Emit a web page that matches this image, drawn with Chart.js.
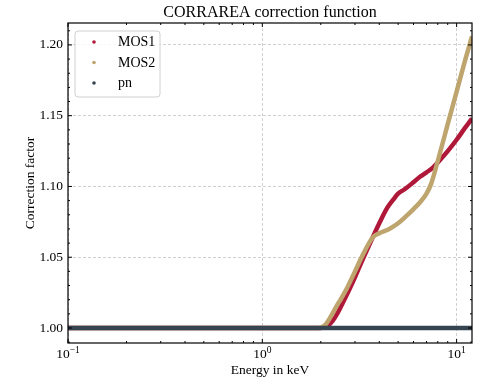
<!DOCTYPE html>
<html>
<head>
<meta charset="utf-8">
<script src="https://cdn.jsdelivr.net/npm/chart.js@4.4.1/dist/chart.umd.min.js"></script>
<style>
html,body{margin:0;padding:0;background:#fff;}
#wrap{width:481px;height:380px;position:relative;}
</style>
</head>
<body>
<div id="wrap"><canvas id="c" width="481" height="380"></canvas></div>
<script>
// ---- data ----
const title = "CORRAREA correction function";
const xLabel = "Energy in keV";
const yLabel = "Correction factor";
const seriesNames = ["MOS1", "MOS2", "pn"];
const seriesColors = ["#b0183a", "#bea46d", "#36454f"];

const mos1Energy = [0.1, 1.0, 2.0, 2.15, 2.3, 2.45, 2.6, 2.8, 3.0, 3.3, 3.7, 4.0, 4.4, 4.8, 5.0, 5.4, 6.0, 6.5, 7.0, 7.5, 8.0, 9.0, 10.0, 11.0, 12.0];
const mos1Value  = [1.000, 1.000, 1.000, 1.001, 1.005, 1.011, 1.018, 1.027, 1.036, 1.049, 1.064, 1.074, 1.085, 1.092, 1.095, 1.098, 1.103, 1.107, 1.110, 1.113, 1.117, 1.125, 1.133, 1.141, 1.148];

const mos2Energy = [0.1, 1.0, 1.95, 2.1, 2.25, 2.4, 2.55, 2.7, 3.0, 3.3, 3.7, 4.0, 4.5, 5.0, 5.5, 6.0, 6.5, 7.0, 7.4, 8.0, 9.0, 10.0, 11.0, 12.0];
const mos2Value  = [1.000, 1.000, 1.000, 1.002, 1.008, 1.015, 1.021, 1.027, 1.040, 1.052, 1.064, 1.067, 1.070, 1.074, 1.079, 1.084, 1.089, 1.095, 1.102, 1.118, 1.144, 1.167, 1.188, 1.206];

const pnEnergy = [0.1, 0.5, 1.0, 2.0, 5.0, 10.0, 12.0];
const pnValue  = [1.000, 1.000, 1.000, 1.000, 1.000, 1.000, 1.000];

const xTickValues = [0.1, 1, 10];
const xTickExponents = ["\u22121", "0", "1"];
const yTickValues = [1.00, 1.05, 1.10, 1.15, 1.20];
const yMinorStep = 0.01;

const energies = [mos1Energy, mos2Energy, pnEnergy];
const values = [mos1Value, mos2Value, pnValue];

const SERIF = "'Liberation Serif', 'Times New Roman', serif";

const datasets = seriesNames.map((name, i) => ({
  label: name,
  data: energies[i].map((e, j) => ({x: e, y: values[i][j]})),
  borderColor: seriesColors[i],
  backgroundColor: seriesColors[i],
  borderWidth: 4.5,
  pointRadius: 0,
  cubicInterpolationMode: 'monotone',
  order: 3 - i
}));

const decorPlugin = {
  id: 'decor',
  afterDraw(chart) {
    const ctx = chart.ctx;
    const a = chart.chartArea;
    const xs = chart.scales.x, ys = chart.scales.y;
    ctx.save();
    ctx.strokeStyle = '#000';
    ctx.lineWidth = 1.2;
    ctx.strokeRect(a.left, a.top, a.right - a.left, a.bottom - a.top);
    ctx.lineWidth = 1;
    const xmin = xs.min, xmax = xs.max;
    for (let d = -2; d <= 2; d++) {
      for (let m = 1; m <= 9; m++) {
        const v = m * Math.pow(10, d);
        if (v < xmin - 1e-9 || v > xmax + 1e-9) continue;
        const px = xs.getPixelForValue(v);
        const len = (m === 1) ? 4 : 2;
        ctx.beginPath();
        ctx.moveTo(px, a.bottom); ctx.lineTo(px, a.bottom - len);
        ctx.moveTo(px, a.top); ctx.lineTo(px, a.top + len);
        ctx.stroke();
      }
    }
    const start = Math.ceil(ys.min / yMinorStep - 1e-6);
    const end = Math.floor(ys.max / yMinorStep + 1e-6);
    for (let k = start; k <= end; k++) {
      const v = k * yMinorStep;
      const py = ys.getPixelForValue(v);
      const major = (k % 5 === 0);
      const len = major ? 4 : 2;
      ctx.beginPath();
      ctx.moveTo(a.left, py); ctx.lineTo(a.left + len, py);
      ctx.moveTo(a.right, py); ctx.lineTo(a.right - len, py);
      ctx.stroke();
    }
    ctx.fillStyle = '#000';
    ctx.textBaseline = 'alphabetic';
    xTickValues.forEach((v, i) => {
      const px = xs.getPixelForValue(v);
      ctx.font = "13.5px " + SERIF;
      const wb = ctx.measureText("10").width;
      ctx.font = "9.5px " + SERIF;
      const we = ctx.measureText(xTickExponents[i]).width;
      const x0 = px - (wb + we) / 2;
      ctx.font = "13.5px " + SERIF;
      ctx.textAlign = 'left';
      ctx.fillText("10", x0, a.bottom + 15);
      ctx.font = "9.5px " + SERIF;
      ctx.fillText(xTickExponents[i], x0 + wb, a.bottom + 9.5);
    });
    const lx = 75, ly = 31, lw = 85, lh = 66, r = 3;
    ctx.beginPath();
    ctx.moveTo(lx + r, ly);
    ctx.arcTo(lx + lw, ly, lx + lw, ly + lh, r);
    ctx.arcTo(lx + lw, ly + lh, lx, ly + lh, r);
    ctx.arcTo(lx, ly + lh, lx, ly, r);
    ctx.arcTo(lx, ly, lx + lw, ly, r);
    ctx.closePath();
    ctx.fillStyle = 'rgba(255,255,255,0.85)';
    ctx.fill();
    ctx.strokeStyle = '#d0d0d0';
    ctx.lineWidth = 1;
    ctx.stroke();
    chart.data.datasets.forEach((ds, i) => {
      const cy = 42 + i * 20.5;
      ctx.beginPath();
      ctx.arc(94, cy, 1.8, 0, Math.PI * 2);
      ctx.fillStyle = ds.borderColor;
      ctx.fill();
      ctx.fillStyle = '#000';
      ctx.font = "14px " + SERIF;
      ctx.textAlign = 'left';
      ctx.textBaseline = 'middle';
      ctx.fillText(ds.label, 118, cy + 0.5);
    });
    ctx.restore();
  }
};

new Chart(document.getElementById('c'), {
  type: 'line',
  data: { datasets },
  options: {
    responsive: false,
    animation: false,
    layout: { padding: { left: 0, right: 9, top: 0, bottom: 0 } },
    plugins: {
      legend: { display: false },
      tooltip: { enabled: false },
      title: {
        display: true,
        text: title,
        fullSize: false,
        color: '#000',
        font: { family: SERIF, size: 16, weight: 'normal', lineHeight: 1.2 },
        padding: { top: 3, bottom: 0.8 }
      }
    },
    scales: {
      x: {
        type: 'logarithmic',
        min: 0.1,
        max: 12,
        afterFit(s) { s.height = 37; },
        afterBuildTicks(s) { s.ticks = xTickValues.map(v => ({value: v, major: true})); },
        border: { display: false, dash: [3, 2] },
        grid: { color: '#c4c4c4', lineWidth: 0.8, drawTicks: false },
        ticks: { display: false },
        title: {
          display: true, text: xLabel, color: '#000',
          font: { family: SERIF, size: 13.5, lineHeight: 1.2 },
          padding: { top: 0, bottom: 1.5 }
        }
      },
      y: {
        type: 'linear',
        min: 0.9894,
        max: 1.2155,
        afterFit(s) { s.width = 68; },
        afterBuildTicks(s) { s.ticks = yTickValues.map(v => ({value: v})); },
        border: { display: false, dash: [3, 2] },
        grid: { color: '#c4c4c4', lineWidth: 0.8, drawTicks: false },
        ticks: {
          color: '#000',
          padding: 5,
          font: { family: SERIF, size: 13.5 },
          callback: (v) => Number(v).toFixed(2)
        },
        title: {
          display: true, text: yLabel, color: '#000',
          font: { family: SERIF, size: 13.5, lineHeight: 1.2 },
          padding: { top: 22, bottom: 0 }
        }
      }
    }
  },
  plugins: [decorPlugin]
});
</script>
</body>
</html>
